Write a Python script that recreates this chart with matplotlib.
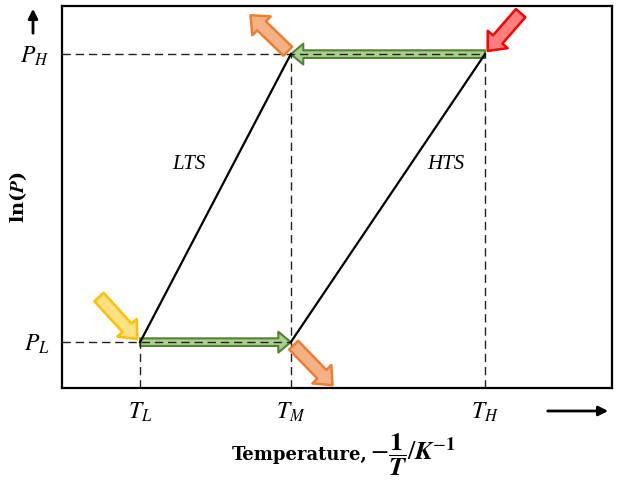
import matplotlib
matplotlib.use('Agg')
import matplotlib.pyplot as plt
from matplotlib.transforms import offset_copy

plt.rcParams['mathtext.fontset'] = 'stix'
plt.rcParams['font.family'] = 'DejaVu Serif'

# temperature positions (arbitrary units, axis runs 0..10)
t_pos = [1.42, 4.16, 7.69]
t_labels = [r'$T_L$', r'$T_M$', r'$T_H$']
# pressure positions (ln P, axis runs 0..10)
p_pos = [1.2, 8.74]
p_labels = [r'$P_L$', r'$P_H$']

# the two lines
lts_x = [t_pos[0], t_pos[1]]
lts_y = [p_pos[0], p_pos[1]]
hts_x = [t_pos[1], t_pos[2]]
hts_y = [p_pos[0], p_pos[1]]

fig = plt.figure(figsize=(6.17, 4.80), dpi=100)
ax = fig.add_axes([62/617, 1-388/480, 550/617, 382/480])
ax.set_xlim(0, 10)
ax.set_ylim(0, 10)
for s in ax.spines.values():
    s.set_linewidth(1.6)

# dashed guide lines
dash = dict(color='#222222', linestyle=(0, (6, 3.5)), linewidth=1.0, zorder=4)
ax.plot([0, t_pos[1]], [p_pos[0], p_pos[0]], **dash)
ax.plot([0, t_pos[2]], [p_pos[1], p_pos[1]], **dash)
ax.plot([t_pos[0], t_pos[0]], [0, p_pos[0]], **dash)
ax.plot([t_pos[1], t_pos[1]], [0, p_pos[1]], **dash)
ax.plot([t_pos[2], t_pos[2]], [0, p_pos[1]], **dash)

# LTS / HTS lines
ax.plot(lts_x, lts_y, color='black', linewidth=1.6, zorder=5)
ax.plot(hts_x, hts_y, color='black', linewidth=1.6, zorder=5)
ax.text(2.31, 5.84, 'LTS', fontsize=15, ha='center', va='center',
        family='Liberation Serif', style='italic')
ax.text(6.98, 5.84, 'HTS', fontsize=15, ha='center', va='center',
        family='Liberation Serif', style='italic')

# green transfer arrows
green = dict(arrowstyle='simple,head_length=0.9,head_width=1.5,tail_width=0.55',
             mutation_scale=10, fc='#a9d18e', ec='#548235', lw=1.5,
             shrinkA=0, shrinkB=0)
ax.annotate('', xy=(t_pos[1], p_pos[0]), xytext=(t_pos[0], p_pos[0]),
            arrowprops=green, zorder=3)
ax.annotate('', xy=(t_pos[1], p_pos[1]), xytext=(t_pos[2], p_pos[1]),
            arrowprops=green, zorder=3)

# block arrows (heat flows)
def block(fc, ec):
    return dict(arrowstyle='simple,head_length=1.1,head_width=1.9,tail_width=0.9',
                mutation_scale=10, fc=fc, ec=ec, lw=1.8, shrinkA=2, shrinkB=3)

# into the point
ax.annotate('', xy=(t_pos[0], p_pos[0]), xytext=(-31, 34), textcoords='offset points',
            arrowprops=block('#ffe083', '#ffc000'), zorder=6)
ax.annotate('', xy=(t_pos[2], p_pos[1]), xytext=(27, 31), textcoords='offset points',
            arrowprops=block('#ff7f7f', '#ff0000'), zorder=6)
# out of the point
for (px, py), (dx, dy) in [((t_pos[1], p_pos[1]), (-29, 28)),
                           ((t_pos[1], p_pos[0]), (30, -31))]:
    ax.annotate('', xy=(px, py), xycoords=offset_copy(ax.transData, fig=fig, x=dx, y=dy, units='points'),
                xytext=(px, py), textcoords='data',
                arrowprops=dict(block('#f4b183', '#ed7d31'), shrinkA=3, shrinkB=0), zorder=6)

# ticks
ax.set_xticks(t_pos)
ax.set_xticklabels(t_labels, fontsize=17)
ax.set_yticks(p_pos)
ax.set_yticklabels(p_labels, fontsize=17)
ax.tick_params(length=0, pad=9)

ax.set_ylabel(r'ln($\mathbfit{P}$)', fontsize=14, fontweight='bold')
ax.yaxis.set_label_coords(-0.06, 0.5)

# x label: text part + larger math part for the fraction
ax.text(0.555, -0.175, 'Temperature,', transform=ax.transAxes, fontsize=13,
        fontweight='bold', ha='right', va='center')
ax.text(0.56, -0.175, r'$-\dfrac{\mathbf{1}}{\mathbfit{T}}/\mathbfit{K}^{-\mathbf{1}}$',
        transform=ax.transAxes, fontsize=19, ha='left', va='center')

# axis direction arrows
ax.annotate('', xy=(33/617, 1-6/480), xytext=(33/617, 1-36/480),
            xycoords='figure fraction', textcoords='figure fraction',
            arrowprops=dict(arrowstyle='-|>', color='black', lw=2, mutation_scale=14))
ax.annotate('', xy=(611/617, 1-411/480), xytext=(545/617, 1-411/480),
            xycoords='figure fraction', textcoords='figure fraction',
            arrowprops=dict(arrowstyle='-|>', color='black', lw=2, mutation_scale=14))

fig.savefig('out.png', dpi=100)
